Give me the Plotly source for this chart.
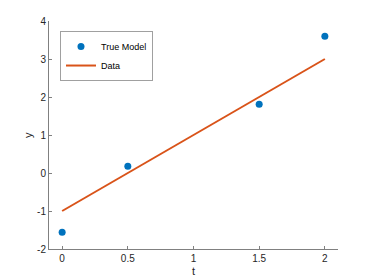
import plotly.graph_objects as go

t_points = [0, 0.5, 1.5, 2]
y_points = [-1.56, 0.18, 1.81, 3.6]
t_line = [0, 0.5, 1, 1.5, 2]
y_line = [-1, 0, 1, 2, 3]
x_ticks = [0, 0.5, 1, 1.5, 2]
x_tick_labels = ["0", "0.5", "1", "1.5", "2"]
y_ticks = [-2, -1, 0, 1, 2, 3, 4]
y_tick_labels = ["-2", "-1", "0", "1", "2", "3", "4"]

fig = go.Figure()
fig.add_trace(go.Scatter(x=t_points, y=y_points, mode="markers", name="True Model",
                         marker=dict(color="#0072BD", size=7)))
fig.add_trace(go.Scatter(x=t_line, y=y_line, mode="lines", name="Data",
                         line=dict(color="#D95319", width=2)))

axis_common = dict(showgrid=False, zeroline=False, showline=True, linecolor="#808080",
                   linewidth=1, ticks="inside", ticklen=3, tickcolor="#808080",
                   tickfont=dict(size=10, color="#262626"), mirror=False,
                   automargin=False)

fig.update_layout(
    width=374, height=280,
    margin=dict(l=49, r=36, t=21, b=31),
    paper_bgcolor="white", plot_bgcolor="white",
    font=dict(family="Liberation Sans, Arial, sans-serif", size=10, color="#262626"),
    xaxis=dict(range=[-0.1, 2.1], tickvals=x_ticks, ticktext=x_tick_labels, **axis_common),
    yaxis=dict(range=[-2, 4], tickvals=y_ticks, ticktext=y_tick_labels, **axis_common),
    legend=dict(x=0.038, y=0.956, xanchor="left", yanchor="top",
                bgcolor="white", bordercolor="#a0a0a0", borderwidth=1,
                font=dict(size=9, color="black"), tracegroupgap=0,
                itemwidth=30),
    showlegend=True,
    annotations=[
        dict(text="t", xref="paper", yref="paper", x=0.5, y=0, yshift=-22,
             showarrow=False, font=dict(size=11, color="#262626"), yanchor="middle"),
        dict(text="y", xref="paper", yref="paper", x=0, y=0.5, xshift=-21,
             showarrow=False, textangle=-90, font=dict(size=11, color="#262626"),
             xanchor="center", yanchor="middle"),
    ],
)

fig.write_html("out.html", config={"displayModeBar": False},
               post_script="document.body.style.margin='0';document.body.style.padding='0';document.body.style.overflow='hidden';")
